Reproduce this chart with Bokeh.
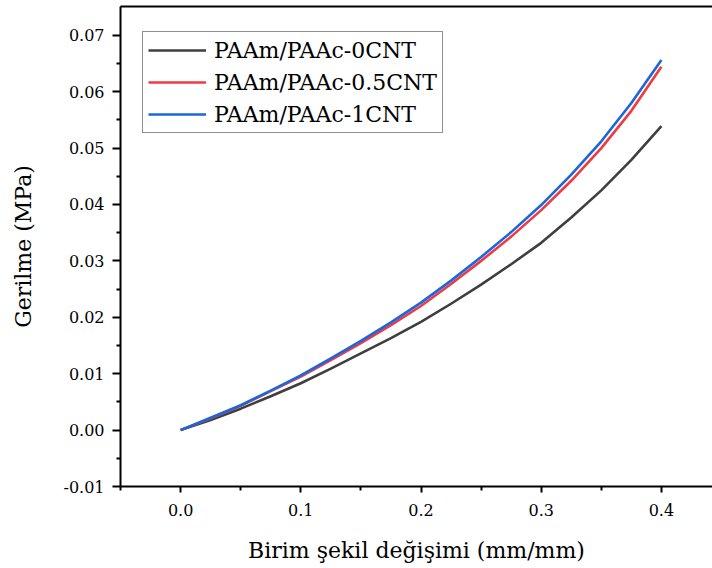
from bokeh.plotting import figure
from bokeh.models import Range1d, FixedTicker, PrintfTickFormatter, LinearAxis, Legend, LegendItem
from bokeh.embed import file_html
from bokeh.resources import INLINE

strain = [0.0, 0.025, 0.05, 0.075, 0.10, 0.125, 0.15, 0.175, 0.20, 0.225, 0.25, 0.275, 0.30, 0.325, 0.35, 0.375, 0.40]
stress_0cnt = [0.0, 0.0018, 0.0038, 0.0060, 0.0083, 0.0109, 0.0136, 0.0163, 0.0192, 0.0224, 0.0258, 0.0294, 0.0332, 0.0377, 0.0425, 0.0479, 0.0539]
stress_05cnt = [0.0, 0.0021, 0.0043, 0.0069, 0.0095, 0.0124, 0.0154, 0.0186, 0.0220, 0.0259, 0.0300, 0.0343, 0.0390, 0.0442, 0.0500, 0.0566, 0.0644]
stress_1cnt = [0.0, 0.0022, 0.0044, 0.0070, 0.0097, 0.0127, 0.0158, 0.0191, 0.0226, 0.0265, 0.0307, 0.0351, 0.0399, 0.0453, 0.0512, 0.0580, 0.0656]
series_names = ["PAAm/PAAc-0CNT", "PAAm/PAAc-0.5CNT", "PAAm/PAAc-1CNT"]
series_colors = ["#3f3f3f", "#ee3b43", "#1a66dd"]
x_ticks = [0.0, 0.1, 0.2, 0.3, 0.4]
x_minor = [-0.05, 0.05, 0.15, 0.25, 0.35, 0.45]
y_ticks = [-0.01, 0.0, 0.01, 0.02, 0.03, 0.04, 0.05, 0.06, 0.07]
y_minor = [-0.005, 0.005, 0.015, 0.025, 0.035, 0.045, 0.055, 0.065]

FONT = "DejaVu Serif"

p = figure(width=712, height=568, output_backend="svg", toolbar_location=None,
           x_range=Range1d(-0.05, 0.4425), y_range=Range1d(-0.01, 0.0751),
           min_border_left=120, min_border_right=0, min_border_top=6, min_border_bottom=82)
p.xgrid.visible = False
p.ygrid.visible = False
p.outline_line_color = None
p.background_fill_color = "white"
p.border_fill_color = "white"

renderers = []
for ys, c in zip([stress_0cnt, stress_05cnt, stress_1cnt], series_colors):
    r = p.line(strain, ys, line_color=c, line_width=2.6, line_join="round")
    renderers.append(r)

for ax in [p.xaxis[0], p.yaxis[0]]:
    ax.axis_line_width = 2
    ax.axis_line_color = "black"
    ax.major_tick_line_width = 2
    ax.minor_tick_line_width = 2
    ax.major_tick_in = 0
    ax.minor_tick_in = 0
    ax.major_label_text_font = FONT
    ax.major_label_text_color = "black"
    ax.axis_label_text_font = FONT
    ax.axis_label_text_font_style = "normal"
    ax.axis_label_text_color = "black"

p.xaxis[0].ticker = FixedTicker(ticks=x_ticks, minor_ticks=x_minor)
p.xaxis[0].formatter = PrintfTickFormatter(format="%.1f")
p.xaxis[0].major_tick_out = 6
p.xaxis[0].minor_tick_out = 4
p.xaxis[0].major_label_text_font_size = "16px"
p.xaxis[0].major_label_standoff = 11
p.xaxis[0].axis_label = "Birim şekil değişimi (mm/mm)"
p.xaxis[0].axis_label_text_font_size = "22px"
p.xaxis[0].axis_label_standoff = 19

p.yaxis[0].ticker = FixedTicker(ticks=y_ticks, minor_ticks=y_minor)
p.yaxis[0].formatter = PrintfTickFormatter(format="%.2f")
p.yaxis[0].major_tick_out = 8
p.yaxis[0].minor_tick_out = 4
p.yaxis[0].major_label_text_font_size = "16px"
p.yaxis[0].major_label_standoff = 8
p.yaxis[0].axis_label = "Gerilme (MPa)"
p.yaxis[0].axis_label_text_font_size = "22px"
p.yaxis[0].axis_label_standoff = 24

top = LinearAxis(ticker=FixedTicker(ticks=[]), major_tick_out=0, minor_tick_out=0,
                 major_tick_in=0, minor_tick_in=0, major_label_text_font_size="0px",
                 axis_line_width=2, axis_line_color="black", major_label_standoff=0)
p.add_layout(top, "above")

legend = Legend(items=[LegendItem(label=n, renderers=[r]) for n, r in zip(series_names, renderers)],
                location=(22, 353), label_text_font=FONT, label_text_font_size="22px",
                label_text_color="black", glyph_width=58, glyph_height=26, label_height=26,
                label_standoff=8, spacing=6, padding=5, margin=0,
                border_line_color="#222222", border_line_width=1, background_fill_alpha=1.0)
p.add_layout(legend, "center")

open("out.html", "w").write(file_html(p, INLINE))
